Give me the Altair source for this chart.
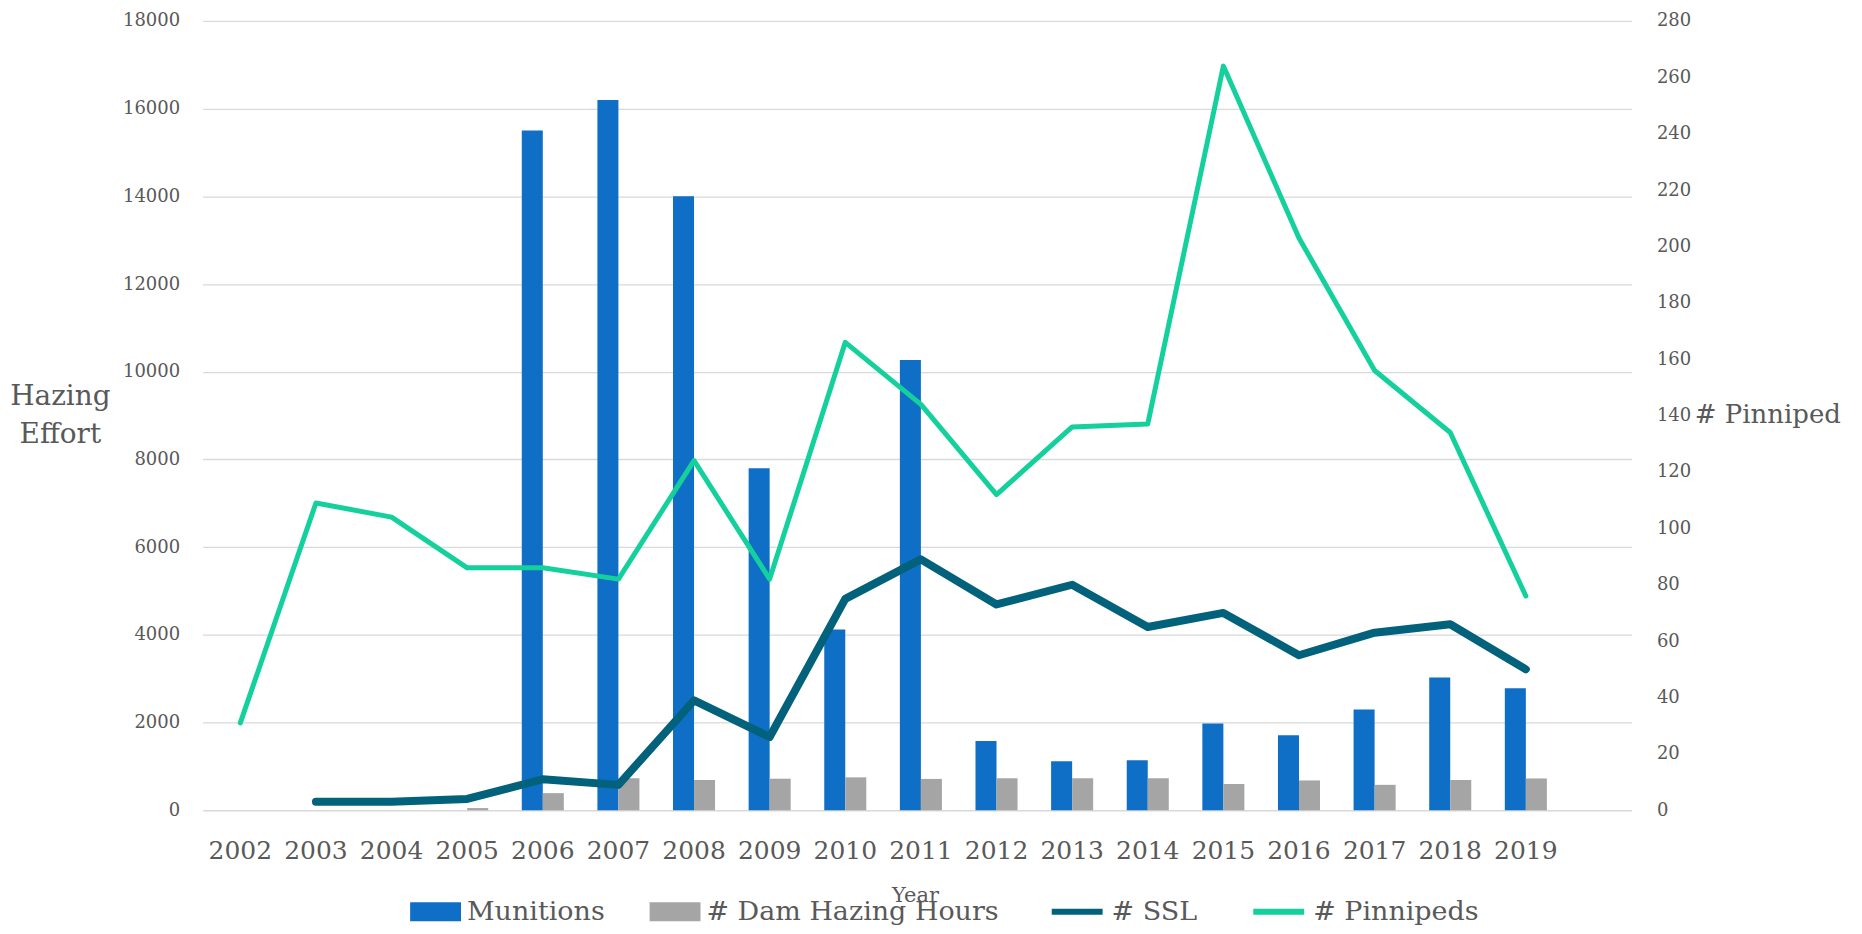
import altair as alt
import pandas as pd

years = [2002, 2003, 2004, 2005, 2006, 2007, 2008, 2009, 2010, 2011,
         2012, 2013, 2014, 2015, 2016, 2017, 2018, 2019]
munitions = [None, None, None, None, 15500, 16200, 14000, 7800, 4120, 10270,
             1580, 1120, 1140, 1980, 1710, 2300, 3030, 2780]
dam_hours = [None, None, None, 50, 390, 730, 690, 720, 750, 715,
             730, 730, 730, 600, 680, 580, 690, 725]
ssl = [None, 3, 3, 4, 11, 9, 39, 26, 75, 89,
       73, 80, 65, 70, 55, 63, 66, 50]
pinnipeds = [31, 109, 104, 86, 86, 82, 124, 82, 166, 144,
             112, 136, 137, 264, 203, 156, 134, 76]

left_ticks = list(range(0, 18001, 2000))
right_ticks = list(range(0, 281, 20))

bar_names = ["Munitions", "# Dam Hazing Hours"]
line_names = ["# SSL", "# Pinnipeds"]
bar_colors = ["#0F6FC6", "#A5A5A5"]
line_colors = ["#03627B", "#14D09C"]

rows_b = []
for name, vals in zip(bar_names, [munitions, dam_hours]):
    for y, v in zip(years, vals):
        if v is not None:
            rows_b.append({"year": y, "bar_series": name, "effort": v})
bars_df = pd.DataFrame(rows_b)

rows_l = []
for name, vals in zip(line_names, [ssl, pinnipeds]):
    for y, v in zip(years, vals):
        if v is not None:
            rows_l.append({"year": y, "line_series": name, "count": v})
lines_df = pd.DataFrame(rows_l)

FONT = "DejaVu Serif"
GREY = "#595959"

xscale = alt.Scale(domain=years, paddingInner=0.444, paddingOuter=0.67, align=0.165)
xaxis = alt.Axis(labelAngle=0, ticks=False, domain=False, labelFontSize=25,
                 labelPadding=28, labelColor=GREY, labelFont=FONT,
                 title="Year", titleX=714, titleY=85, titleFontSize=21,
                 titleFontWeight="normal", titleColor=GREY, titleFont=FONT,
                 titleBaseline="middle", titleAlign="center")

bars = alt.Chart(bars_df).mark_bar().encode(
    x=alt.X("year:O", scale=xscale, axis=xaxis),
    xOffset=alt.XOffset("bar_series:N", scale=alt.Scale(domain=bar_names)),
    y=alt.Y("effort:Q",
            scale=alt.Scale(domain=[0, 18000], nice=False),
            axis=alt.Axis(values=left_ticks, format="d", grid=True, gridColor="#D9D9D9",
                          gridWidth=1.3, domain=False, ticks=False, labelFontSize=18,
                          labelColor=GREY, labelFont=FONT, labelPadding=23,
                          title=["Hazing", "Effort"], titleAngle=0, titleX=-143, titleY=376,
                          titleAlign="center", titleBaseline="middle", titleFontSize=28,
                          titleFontWeight="normal", titleColor=GREY, titleFont=FONT,
                          titleLineHeight=38)),
    fill=alt.Fill("bar_series:N",
                  scale=alt.Scale(domain=bar_names, range=bar_colors),
                  legend=alt.Legend(orient="none", legendX=208, legendY=867,
                                    direction="horizontal", title=None,
                                    symbolType="M-1,-0.37H1V0.37H-1Z", symbolSize=2601,
                                    symbolStrokeWidth=0, labelFontSize=27,
                                    labelColor=GREY, labelFont=FONT, labelOffset=6,
                                    labelLimit=600, columnPadding=44, padding=0)),
)

yright = alt.Y("count:Q",
               scale=alt.Scale(domain=[0, 280], nice=False),
               axis=alt.Axis(orient="right", values=right_ticks, grid=False, domain=False,
                             ticks=False, labelFontSize=18, labelColor=GREY, labelFont=FONT,
                             labelPadding=25, title="# Pinniped", titleAngle=0, titleX=63,
                             titleY=394, titleAlign="left", titleBaseline="middle",
                             titleFontSize=26, titleFontWeight="normal", titleColor=GREY,
                             titleFont=FONT, titleLimit=600))

stroke_enc = alt.Stroke("line_series:N",
                        scale=alt.Scale(domain=line_names, range=line_colors),
                        legend=alt.Legend(orient="none", legendX=848, legendY=864,
                                          direction="horizontal", title=None,
                                          symbolType="stroke", symbolSize=2601,
                                          symbolStrokeWidth=6, labelFontSize=27,
                                          labelColor=GREY, labelFont=FONT, labelOffset=6,
                                          labelLimit=600, columnPadding=44, padding=0))

ssl_line = alt.Chart(lines_df).transform_filter(
    alt.datum.line_series == "# SSL"
).mark_line(strokeWidth=8, strokeCap="round", strokeJoin="round").encode(
    x=alt.X("year:O", scale=xscale, axis=xaxis),
    y=yright,
    stroke=stroke_enc,
)

pin_line = alt.Chart(lines_df).transform_filter(
    alt.datum.line_series == "# Pinnipeds"
).mark_line(strokeWidth=5, strokeCap="round", strokeJoin="round").encode(
    x=alt.X("year:O", scale=xscale, axis=xaxis),
    y=yright,
    stroke=stroke_enc,
)

lines = alt.layer(ssl_line, pin_line)

chart = alt.layer(bars, lines).resolve_scale(y="independent").properties(
    width=1432, height=791,
    autosize=alt.AutoSizeParams(type="none"),
    padding={"left": 195, "top": 12, "right": 223, "bottom": 117},
).configure(font=FONT).configure_view(stroke=None)

chart.save("out.html", embed_options={"renderer": "svg", "actions": False})
